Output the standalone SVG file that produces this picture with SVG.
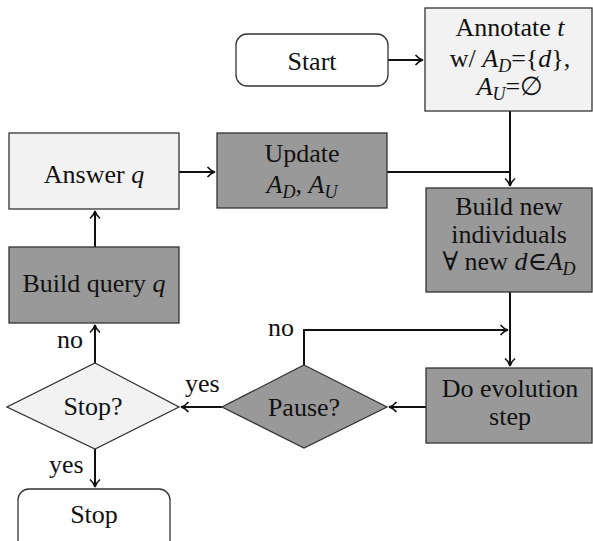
<svg xmlns="http://www.w3.org/2000/svg" width="593" height="541" viewBox="0 0 593 541" font-family="'Liberation Serif', 'DejaVu Serif', serif">
<style>
text{font-size:26px;fill:#111;text-anchor:middle}
.lbl{text-anchor:start}
.i{font-style:italic}
.s{font-style:italic;font-size:18px}
.light{fill:#f2f2f2;stroke:#333;stroke-width:1.3}
.dark{fill:#999;stroke:#333;stroke-width:1.3}
.white{fill:#fff;stroke:#333;stroke-width:1.3}
.c{fill:none;stroke:#111;stroke-width:2}
</style>
<defs>
<marker id="arr" viewBox="-9 -6 11 12" refX="0" refY="0" markerWidth="11" markerHeight="12" orient="auto" markerUnits="userSpaceOnUse">
<path d="M-7.5,-5 C-5,-2 -2.5,-0.6 0,0 C-2.5,0.6 -5,2 -7.5,5" fill="none" stroke="#111" stroke-width="1.6"/>
</marker>
</defs>
<g id="connectors">
<path class="c" d="M388,60 H423" marker-end="url(#arr)"/>
<path class="c" d="M510,111 V186" marker-end="url(#arr)"/>
<path class="c" d="M387,172 H510"/>
<path class="c" d="M179,172 H215" marker-end="url(#arr)"/>
<path class="c" d="M95,247 V211" marker-end="url(#arr)"/>
<path class="c" d="M510,292 V366" marker-end="url(#arr)"/>
<path class="c" d="M304,365 V330 H508" marker-end="url(#arr)"/>
<path class="c" d="M426,407 H389" marker-end="url(#arr)"/>
<path class="c" d="M222,407 H181" marker-end="url(#arr)"/>
<path class="c" d="M95,363 V325" marker-end="url(#arr)"/>
<path class="c" d="M95,449 V487" marker-end="url(#arr)"/>
<text class="lbl" x="268" y="336">no</text>
<text class="lbl" x="185" y="392">yes</text>
<text class="lbl" x="57" y="348">no</text>
<text class="lbl" x="49" y="473">yes</text>
</g>
<g id="start">
<rect class="white" x="236" y="34" width="152" height="52" rx="11"/>
<text x="312" y="70">Start</text>
</g>
<g id="annotate">
<rect class="light" x="425" y="8" width="167" height="103"/>
<text x="510" y="36">Annotate <tspan class="i">t</tspan></text>
<text x="510" y="67">w/ <tspan class="i">A</tspan><tspan class="s" dy="5">D</tspan><tspan dy="-5">={</tspan><tspan class="i">d</tspan>},</text>
<text x="510" y="95"><tspan class="i">A</tspan><tspan class="s" dy="5">U</tspan><tspan dy="-5">=∅</tspan></text>
</g>
<g id="answer">
<rect class="light" x="9" y="133" width="170" height="76"/>
<text x="94" y="183">Answer <tspan class="i">q</tspan></text>
</g>
<g id="update">
<rect class="dark" x="217" y="133" width="170" height="75"/>
<text x="302" y="162">Update</text>
<text x="302" y="193"><tspan class="i">A</tspan><tspan class="s" dy="5">D</tspan><tspan dy="-5">, </tspan><tspan class="i">A</tspan><tspan class="s" dy="5">U</tspan></text>
</g>
<g id="buildnew">
<rect class="dark" x="426" y="188" width="166" height="104"/>
<text x="509" y="215">Build new</text>
<text x="509" y="243">individuals</text>
<text x="509" y="270">∀ new <tspan class="i">d</tspan>∈<tspan class="i">A</tspan><tspan class="s" dy="5">D</tspan></text>
</g>
<g id="buildquery">
<rect class="dark" x="9" y="247" width="170" height="76"/>
<text x="94" y="292">Build query <tspan class="i">q</tspan></text>
</g>
<g id="evolution">
<rect class="dark" x="426" y="368" width="166" height="75"/>
<text x="510" y="397">Do evolution</text>
<text x="510" y="425">step</text>
</g>
<g id="pause">
<polygon class="dark" points="304,365 387,407 304,448 222,407"/>
<text x="304" y="416">Pause?</text>
</g>
<g id="stopq">
<polygon class="light" points="95,363 179,407 95,449 7,407"/>
<text x="93" y="415">Stop?</text>
</g>
<g id="stop">
<rect class="white" x="18" y="489" width="152" height="62" rx="11"/>
<text x="94" y="523">Stop</text>
</g>
</svg>
